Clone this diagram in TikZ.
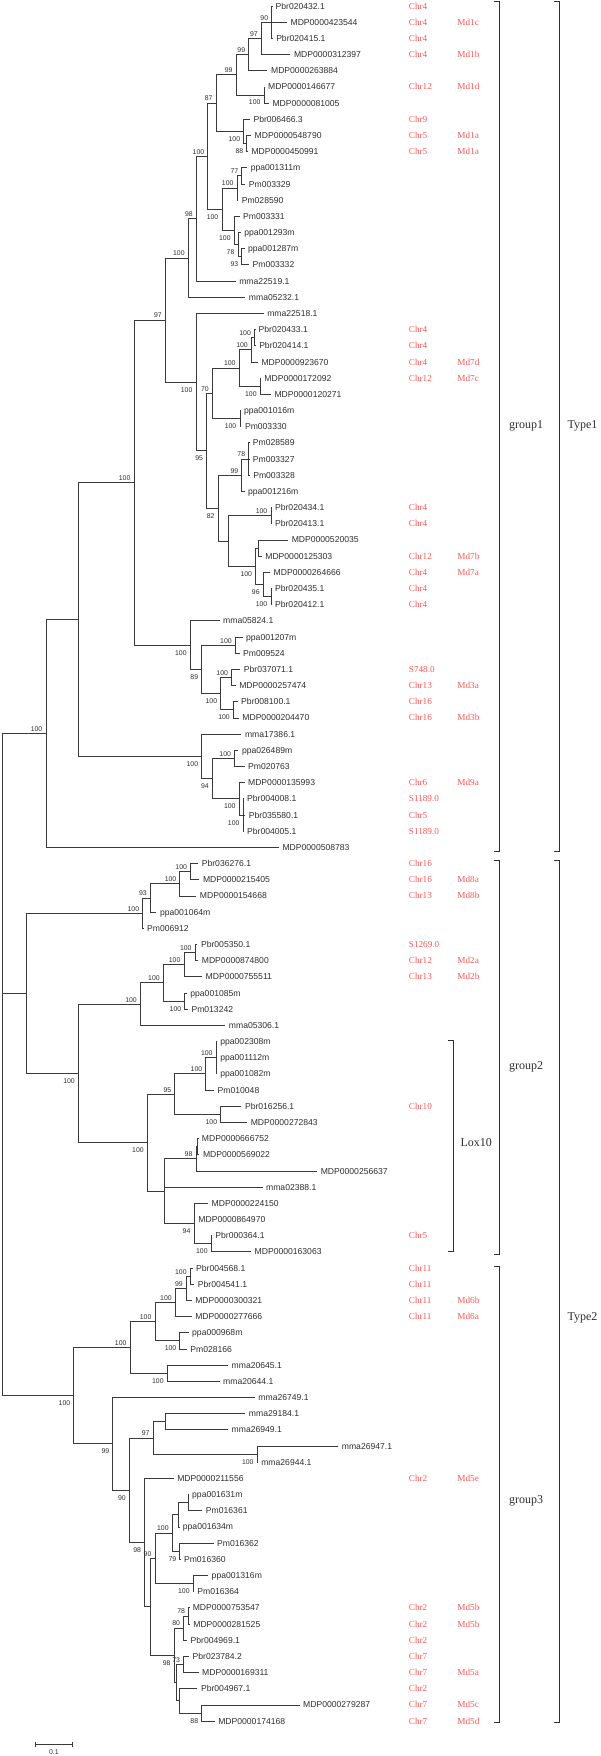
\documentclass[tikz,border=0pt]{standalone}
\usepackage{fontspec}
\setmainfont{Liberation Serif}
\setsansfont{Liberation Sans}
\usepackage{tikz}
\usepackage{xcolor}
\usetikzlibrary{calc}
\definecolor{branchgrey}{HTML}{3A3A3A}
\definecolor{labelgrey}{HTML}{2E2E2E}
\definecolor{chrred}{HTML}{FF5656}
\definecolor{bracketgrey}{HTML}{303030}
\tikzset{
  branch/.style={draw=branchgrey, line width=0.8pt},
  leaf/.style={anchor=west, inner sep=0pt, xshift=3.4pt, text=labelgrey,
               font=\sffamily\fontsize{8.6}{10}\selectfont, text height=6.1pt, text depth=0pt},
  bslab/.style={anchor=base east, inner sep=0pt, xshift=-3.4pt, text=labelgrey,
                font=\sffamily\fontsize{6.9}{8}\selectfont},
  bsup/.style={bslab, yshift=2.1pt},
  bsdown/.style={bslab, yshift=-10pt},
  chrlab/.style={anchor=west, inner sep=0pt, text=chrred,
                 font=\rmfamily\fontsize{9.2}{10}\selectfont, text height=6.1pt, text depth=0pt},
  bracket/.style={draw=bracketgrey, line width=0.9pt},
  grouplab/.style={anchor=base west, inner sep=0pt, text=labelgrey,
                   font=\rmfamily\fontsize{12}{14}\selectfont}
}
% clade: name, x, upper child, lower child
\newcommand{\clade}[4]{%
  \path let \p1=($(#3)!.5!(#4)$), \p2=(#2,0) in (\x2,\y1) coordinate (#1);
  \draw[branch] (#3) -| (#1) |- (#4);
}

\begin{document}
\begin{tikzpicture}[x=1.148pt,y=-1pt]
  \useasboundingbox (0pt,0pt) rectangle (600pt,-1756pt);

  % leaves
  \foreach \i/\tip/\name in {
    1/237/Pbr020432.1, 2/250/MDP0000423544, 3/237.5/Pbr020415.1, 4/253/MDP0000312397,
    5/233/MDP0000263884, 6/230.5/MDP0000146677, 7/234.3/MDP0000081005, 8/217.7/Pbr006466.3,
    9/218.7/MDP0000548790, 10/216/MDP0000450991, 11/215.3/ppa001311m, 12/213.7/Pm003329,
    13/207.5/Pm028590, 14/208.7/Pm003331, 15/209.7/ppa001293m, 16/213/ppa001287m,
    17/217/Pm003332, 18/205.3/mma22519.1, 19/213.7/mma05232.1, 20/229.7/mma22518.1,
    21/222.2/Pbr020433.1, 22/222.7/Pbr020414.1, 23/224.7/MDP0000923670, 24/227.2/MDP0000172092,
    25/236/MDP0000120271, 26/209.5/ppa001016m, 27/210.3/Pm003330, 28/217.2/Pm028589,
    29/217.2/Pm003327, 30/217.5/Pm003328, 31/213/ppa001216m, 32/236.5/Pbr020434.1,
    33/236.5/Pbr020413.1, 34/251/MDP0000520035, 35/228/MDP0000125303, 36/235.3/MDP0000264666,
    37/236.5/Pbr020435.1, 38/236.5/Pbr020412.1, 39/191.3/mma05824.1, 40/211.3/ppa001207m,
    41/208.7/Pm009524, 42/209.3/Pbr037071.1, 43/205.3/MDP0000257474, 44/207/Pbr008100.1,
    45/208/MDP0000204470, 46/210.3/mma17386.1, 47/207.7/ppa026489m, 48/213/Pm020763,
    49/213/MDP0000135993, 50/212.2/Pbr004008.1, 51/213.7/Pbr035580.1, 52/212.2/Pbr004005.1,
    53/243/MDP0000508783,
    54/172.7/Pbr036276.1, 55/173.7/MDP0000215405, 56/171/MDP0000154668, 57/136.3/ppa001064m,
    58/125/Pm006912, 59/172/Pbr005350.1, 60/172.7/MDP0000874800, 61/176/MDP0000755511,
    62/162.7/ppa001085m, 63/163.7/Pm013242, 64/196.3/mma05306.1, 65/188.8/ppa002308m,
    66/188.8/ppa001112m, 67/188.8/ppa001082m, 68/186.5/Pm010048, 69/210.3/Pbr016256.1,
    70/215.3/MDP0000272843, 71/172.8/MDP0000666752, 72/173.7/MDP0000569022, 73/276.3/MDP0000256637,
    74/228.7/mma02388.1, 75/181.3/MDP0000224150, 76/169.7/MDP0000864970, 77/184.5/Pbr000364.1,
    78/218.7/MDP0000163063,
    79/167.7/Pbr004568.1, 80/169.3/Pbr004541.1, 81/167/MDP0000300321, 82/167/MDP0000277666,
    83/164.3/ppa000968m, 84/162.7/Pm028166, 85/198.7/mma20645.1, 86/191.3/mma20644.1,
    87/222/mma26749.1, 88/213.7/mma29184.1, 89/198.7/mma26949.1, 90/294.7/mma26947.1,
    91/224.5/mma26944.1, 92/151.3/MDP0000211556, 93/164.3/ppa001631m, 94/176.3/Pm016361,
    95/156.2/ppa001634m, 96/186/Pm016362, 97/157.2/Pm016360, 98/181.3/ppa001316m,
    99/168.8/Pm016364, 100/164.8/MDP0000753547, 101/165.3/MDP0000281525, 102/163/Pbr004969.1,
    103/164.7/Pbr023784.2, 104/173/MDP0000169311, 105/172/Pbr004967.1, 106/261/MDP0000279287,
    107/187/MDP0000174168}
  {
    \coordinate (l\i) at (\tip,{6+16.18*(\i-1)});
    \node[leaf] (t\i) at (l\i) {\name};
  }

  % group1 clades
  \clade{A}{236.7}{l1}{l3} \draw[branch] (A) |- (l2);
  \clade{B}{227.7}{A}{l4}
  \clade{C}{216.7}{B}{l5}
  \clade{D}{230}{l6}{l7}
  \clade{E}{205.7}{C}{D}
  \clade{H}{215}{l9}{l10}
  \clade{G}{212.3}{l8}{H}
  \clade{F}{188.3}{E}{G}
  \clade{K}{210.7}{l11}{l12}
  \clade{M}{206.5}{K}{l13}
  \clade{Na}{210.7}{l16}{l17}
  \clade{Nb}{207.3}{l15}{Na}
  \clade{P}{204}{l14}{Nb}
  \clade{J}{193.3}{M}{P}
  \clade{I}{181}{F}{J}
  \clade{Q}{171}{I}{l18}
  \clade{R}{164}{Q}{l19}
  \clade{AA}{221.7}{l21}{l22}
  \clade{AB}{219}{AA}{l23}
  \clade{AC}{226.7}{l24}{l25}
  \clade{X}{208.3}{AB}{AC}
  \clade{Y}{209}{l26}{l27}
  \clade{W}{185}{X}{Y}
  \clade{AD}{216.7}{l28}{l30} \draw[branch] (AD) |- (l29);
  \clade{AE}{210.7}{AD}{l31}
  \clade{AF}{236}{l32}{l33}
  \clade{AJ}{225}{l34}{l35}
  \clade{AH}{236}{l37}{l38}
  \clade{AI}{229.3}{l36}{AH}
  \clade{AK}{222.7}{AJ}{AI}
  \clade{AL}{199}{AF}{AK}
  \clade{Z}{190}{AE}{AL}
  \clade{V}{180}{W}{Z}
  \clade{T}{170.7}{l20}{V}
  \clade{S}{144}{R}{T}
  \clade{BA}{205}{l40}{l41}
  \clade{BB}{201.7}{l42}{l43}
  \clade{BC}{203.3}{l44}{l45}
  \clade{BD}{192.3}{BB}{BC}
  \clade{BE}{175.7}{BA}{BD}
  \clade{BF}{165.7}{l39}{BE}
  \clade{BG}{116.7}{S}{BF}
  \clade{CA}{204.3}{l47}{l48}
  \clade{CD}{211.7}{l50}{l52} \draw[branch] (CD) |- (l51);
  \clade{CC}{208.3}{l49}{CD}
  \clade{CE}{185}{CA}{CC}
  \clade{CF}{175.7}{l46}{CE}
  \clade{CG}{68.3}{BG}{CF}
  \clade{TA}{40}{CG}{l53}

  % group2 clades
  \clade{DA}{166}{l54}{l55}
  \clade{DB}{156.7}{DA}{l56}
  \clade{DC}{131}{DB}{l57}
  \clade{DD}{124.3}{DC}{l58}
  \clade{DE}{170}{l59}{l60}
  \clade{DF}{160.3}{DE}{l61}
  \clade{DG}{161}{l62}{l63}
  \clade{DH}{142.3}{DF}{DG}
  \clade{DI}{122.3}{DH}{l64}
  \clade{EB}{188.3}{l65}{l67} \draw[branch] (EB) |- (l66);
  \clade{EC}{179.3}{EB}{l68}
  \clade{ED}{192.3}{l69}{l70}
  \clade{EE}{152.3}{EC}{ED}
  \clade{EF}{172.3}{l71}{l72}
  \clade{EG}{170.7}{EF}{l73}
  \clade{EJ}{184}{l77}{l78}
  \clade{EI}{169}{l75}{EJ} \draw[branch] (EI) |- (l76);
  \clade{EH}{143.3}{EG}{EI} \draw[branch] (EH) |- (l74);
  \clade{EA}{128.3}{EE}{EH}
  \clade{DJ}{68.3}{DI}{EA}
  \clade{G2}{23.3}{DD}{DJ}

  % group3 clades
  \clade{FA}{165.7}{l79}{l80}
  \clade{FB}{162.3}{FA}{l81}
  \clade{FC}{152.7}{FB}{l82}
  \clade{FD}{156.7}{l83}{l84}
  \clade{FE}{135}{FC}{FD}
  \clade{FF}{145.7}{l85}{l86}
  \clade{FG}{113.3}{FE}{FF}
  \clade{FH}{144}{l88}{l89}
  \clade{FI}{224}{l90}{l91}
  \clade{FJ}{133.3}{FH}{FI}
  \clade{GA}{164}{l93}{l94}
  \clade{GC}{155.7}{GA}{l95}
  \clade{GB}{156.7}{l96}{l97}
  \clade{GD}{150}{GC}{GB}
  \clade{GE}{168.3}{l98}{l99}
  \clade{GF}{135}{GD}{GE}
  \clade{HA}{164.3}{l100}{l101}
  \clade{HB}{160}{HA}{l102}
  \clade{HC}{160}{l103}{l104}
  \clade{HD}{175.7}{l106}{l107}
  \clade{HE}{156.7}{l105}{HD}
  \clade{HF}{153.3}{HC}{HE}
  \clade{HG}{151.7}{HB}{HF}
  \clade{HH}{131}{GF}{HG}
  \clade{HI}{126}{l92}{HH}
  \clade{HJ}{112.7}{FJ}{HI}
  \clade{HK}{98.3}{l87}{HJ}
  \clade{G3}{64.3}{FG}{HK}

  % root
  \clade{root}{1.7}{TA}{G3} \draw[branch] (root) |- (G2);

  % bootstrap values
  \foreach \n/\v in {A/90, B/97, C/99, E/99, F/87, I/100, K/77, M/100, Q/98, R/100, S/97,
    AA/100, AB/100, X/100, W/70, AD/78, AE/99, AF/100, BA/100, BB/100, BG/100, CA/100, TA/100,
    DA/100, DB/100, DC/93, DD/100, DE/100, DF/100, DH/100, DI/100, EB/100, EC/100, EE/95, EG/98,
    FA/100, FB/99, FC/100, FE/100, FG/100, FJ/97, GD/100, GF/90, HA/78, HB/80, HC/73}
    \node[bsup] (b\n) at (\n) {\v};
  \foreach \n/\v in {D/100, H/88, G/100, Na/93, Nb/78, P/100, J/100, AC/100, Y/100, AH/100,
    AI/96, AK/100, Z/82, V/95, T/100, BC/100, BD/100, BE/89, BF/100, CD/100, CC/100, CE/94,
    CF/100, DG/100, ED/100, EJ/100, EI/94, EA/100, DJ/100, FD/100, FF/100, FI/100, GB/79,
    GE/100, HD/88, HG/98, HI/98, HJ/90, HK/99, G3/100}
    \node[bsdown] (b\n) at (\n) {\v};

  % chromosome and gene names
  \foreach \i/\c in {1/Chr4, 2/Chr4, 3/Chr4, 4/Chr4, 6/Chr12, 8/Chr9, 9/Chr5, 10/Chr5,
    21/Chr4, 22/Chr4, 23/Chr4, 24/Chr12, 32/Chr4, 33/Chr4, 35/Chr12, 36/Chr4, 37/Chr4, 38/Chr4,
    42/S748.0, 43/Chr13, 44/Chr16, 45/Chr16, 49/Chr6, 50/S1189.0, 51/Chr5, 52/S1189.0,
    54/Chr16, 55/Chr16, 56/Chr13, 59/S1269.0, 60/Chr12, 61/Chr13, 69/Chr10, 77/Chr5,
    79/Chr11, 80/Chr11, 81/Chr11, 82/Chr11, 92/Chr2, 100/Chr2, 101/Chr2, 102/Chr2, 103/Chr7,
    104/Chr7, 105/Chr2, 106/Chr7, 107/Chr7}
    \node[chrlab] (c\i) at (356,{6+16.18*(\i-1)}) {\c};
  \foreach \i/\m in {2/Md1c, 4/Md1b, 6/Md1d, 9/Md1a, 10/Md1a, 23/Md7d, 24/Md7c, 35/Md7b,
    36/Md7a, 43/Md3a, 45/Md3b, 49/Md9a, 55/Md8a, 56/Md8b, 60/Md2a, 61/Md2b, 81/Md6b,
    82/Md6a, 92/Md5e, 100/Md5b, 101/Md5b, 104/Md5a, 106/Md5c, 107/Md5d}
    \node[chrlab] (m\i) at (398.3,{6+16.18*(\i-1)}) {\m};

  % brackets
  \draw[bracket] (430,1.7) -- (435,1.7) -- (435,851) -- (430,851);
  \draw[bracket] (430,860.7) -- (435,860.7) -- (435,1254.3) -- (430,1254.3);
  \draw[bracket] (430,1266.7) -- (435,1266.7) -- (435,1722.3) -- (430,1722.3);
  \draw[bracket] (390,1040) -- (395,1040) -- (395,1251) -- (390,1251);
  \draw[bracket] (482.7,1.7) -- (487.3,1.7) -- (487.3,851) -- (482.7,851);
  \draw[bracket] (482.7,860.7) -- (487.3,860.7) -- (487.3,1722.3) -- (482.7,1722.3);
  \node[grouplab] (grp1) at (443.3,428) {group1};
  \node[grouplab] (grp2) at (443.3,1069.5) {group2};
  \node[grouplab] (grp3) at (443.3,1503.5) {group3};
  \node[grouplab] (lox) at (401,1146) {Lox10};
  \node[grouplab] (typ1) at (494.2,428) {Type1};
  \node[grouplab] (typ2) at (494.2,1320.5) {Type2};

  % scale bar
  \coordinate (s0) at (30.7,1744);
  \coordinate (s1) at (63.3,1744);
  \draw[branch] (s0) -- (s1);
  \draw[branch] ([yshift=2.5pt]s0) -- ([yshift=-2.5pt]s0);
  \draw[branch] ([yshift=2.5pt]s1) -- ([yshift=-2.5pt]s1);
  \node[anchor=base, inner sep=0pt, text=labelgrey, font=\sffamily\fontsize{6.9}{8}\selectfont]
    (sc) at (47,1754.5) {0.1};
\end{tikzpicture}
\end{document}
